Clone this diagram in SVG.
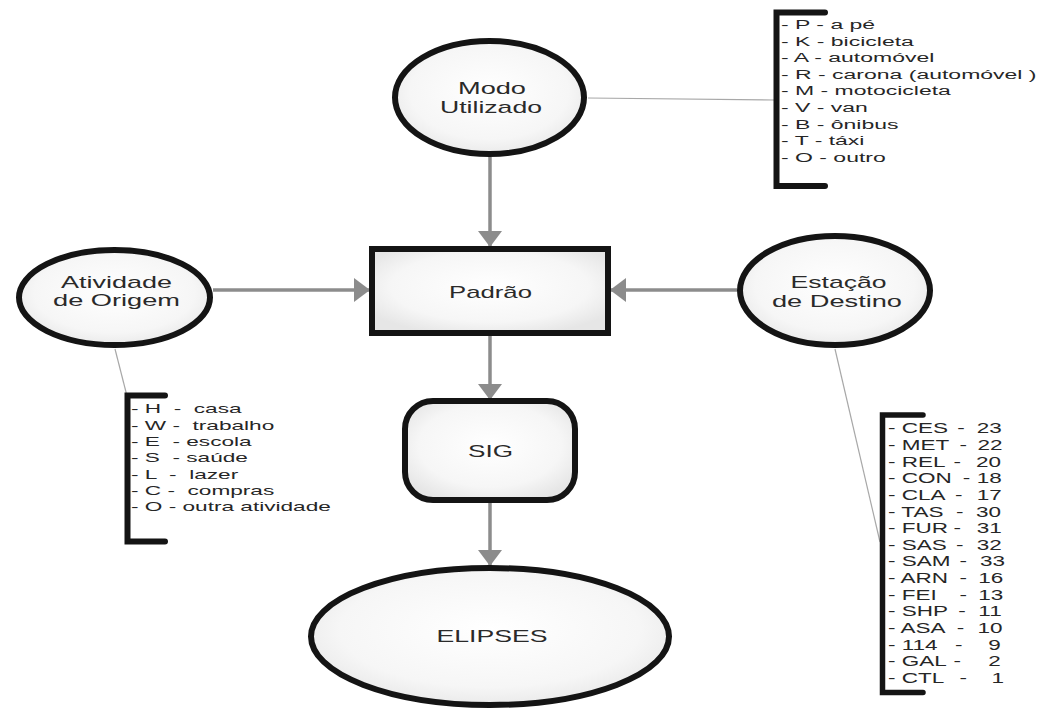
<svg xmlns="http://www.w3.org/2000/svg" width="1039" height="711" viewBox="0 0 1039 711">
<defs>
<radialGradient id="g" cx="0.5" cy="0.45" r="0.6">
<stop offset="0" stop-color="#ffffff"/>
<stop offset="0.7" stop-color="#f6f6f6"/>
<stop offset="1" stop-color="#e6e6e6"/>
</radialGradient>
<marker id="ah" viewBox="0 0 16 24" refX="16" refY="12" markerWidth="16" markerHeight="24" markerUnits="userSpaceOnUse" orient="auto">
<path d="M0,0 L16,12 L0,24 Z" fill="#8c8c8c"/>
</marker>
<style>
.node{fill:url(#g);stroke:#141414;stroke-width:6}
.lbl{font-family:"Liberation Sans",Arial,sans-serif;font-size:17px;fill:#2a2a2a;text-anchor:middle}
.arr{stroke:#8c8c8c;stroke-width:3.5;fill:none;marker-end:url(#ah)}
.thin{stroke:#a8a8a8;stroke-width:1.2;fill:none}
.brk{stroke:#141414;stroke-width:6;fill:none;stroke-linecap:round}
.lg1{font-family:"Liberation Sans",Arial,sans-serif;font-size:12.5px;fill:#262626;white-space:pre}
.lg3{font-family:"Liberation Sans",Arial,sans-serif;font-size:15px;fill:#262626}
</style>
</defs>
<rect x="0" y="0" width="1039" height="711" fill="#ffffff"/>

<g id="connectors">
<line class="arr" x1="490" y1="157" x2="490" y2="247"/>
<line class="arr" x1="213" y1="290" x2="370" y2="290"/>
<line class="arr" x1="737" y1="290" x2="610" y2="290"/>
<line class="arr" x1="490" y1="336" x2="490" y2="400"/>
<line class="arr" x1="490" y1="503" x2="490" y2="566"/>
<line class="thin" x1="588" y1="98" x2="774" y2="100"/>
<line class="thin" x1="115" y1="349" x2="127" y2="396"/>
<line class="thin" x1="835" y1="349" x2="880" y2="542"/>
</g>

<g id="modo">
<ellipse class="node" cx="489.5" cy="97.5" rx="94.5" ry="56.5"/>
<text class="lbl" x="492" y="93.5" textLength="68" lengthAdjust="spacingAndGlyphs">Modo</text>
<text class="lbl" x="491" y="113" textLength="102" lengthAdjust="spacingAndGlyphs">Utilizado</text>
</g>

<g id="padrao">
<rect class="node" x="372" y="249" width="236" height="84"/>
<text class="lbl" x="490.5" y="297.5" textLength="83" lengthAdjust="spacingAndGlyphs">Padrão</text>
</g>

<g id="atividade">
<ellipse class="node" cx="114.5" cy="297.5" rx="95.5" ry="47.5"/>
<text class="lbl" x="116.5" y="287.5" textLength="111" lengthAdjust="spacingAndGlyphs">Atividade</text>
<text class="lbl" x="116.5" y="306" textLength="127" lengthAdjust="spacingAndGlyphs">de Origem</text>
</g>

<g id="estacao">
<ellipse class="node" cx="835" cy="290.5" rx="95" ry="54.5"/>
<text class="lbl" x="838.5" y="288" textLength="96" lengthAdjust="spacingAndGlyphs">Estação</text>
<text class="lbl" x="837" y="307" textLength="130" lengthAdjust="spacingAndGlyphs">de Destino</text>
</g>

<g id="sig">
<rect class="node" x="405" y="401" width="170" height="99" rx="28" ry="28"/>
<text class="lbl" x="490.5" y="457" textLength="45" lengthAdjust="spacingAndGlyphs">SIG</text>
</g>

<g id="elipses">
<ellipse class="node" cx="490" cy="636.5" rx="179" ry="68.5"/>
<text class="lbl" x="492" y="642" textLength="111" lengthAdjust="spacingAndGlyphs">ELIPSES</text>
</g>

<g id="legenda-modo">
<path class="brk" d="M825,12.5 H776.5 V186 H825"/>
<g transform="translate(781 0) scale(1.84 1)">
<text class="lg1" x="0" y="29">- P - a pé</text>
<text class="lg1" x="0" y="45.6">- K - bicicleta</text>
<text class="lg1" x="0" y="62.2">- A - automóvel</text>
<text class="lg1" x="0" y="78.9">- R - carona (automóvel )</text>
<text class="lg1" x="0" y="95.5">- M - motocicleta</text>
<text class="lg1" x="0" y="112.1">- V - van</text>
<text class="lg1" x="0" y="128.7">- B - ônibus</text>
<text class="lg1" x="0" y="145.4">- T - táxi</text>
<text class="lg1" x="0" y="162">- O - outro</text>
</g>
</g>

<g id="legenda-atividade">
<path class="brk" d="M165,395.5 H127.5 V541.5 H165"/>
<g transform="translate(131 0) scale(1.81 1)">
<text class="lg1" x="0" y="413.5" xml:space="preserve">- H  -  casa</text>
<text class="lg1" x="0" y="429.8" xml:space="preserve">- W -  trabalho</text>
<text class="lg1" x="0" y="446.1" xml:space="preserve">- E  - escola</text>
<text class="lg1" x="0" y="462.4" xml:space="preserve">- S  - saúde</text>
<text class="lg1" x="0" y="478.7" xml:space="preserve">- L  -  lazer</text>
<text class="lg1" x="0" y="495" xml:space="preserve">- C -  compras</text>
<text class="lg1" x="0" y="511.3" xml:space="preserve">- O - outra atividade</text>
</g>
</g>

<g id="legenda-estacao">
<path class="brk" style="stroke-width:5.5" d="M923,415 H882.5 V692.5 H923"/>
<g transform="translate(888 0) scale(1.5 1)">
<text class="lg3" y="433.3"><tspan x="0">- CES</tspan><tspan x="46.2">-</tspan><tspan x="59.1">23</tspan></text>
<text class="lg3" y="449.95"><tspan x="0">- MET</tspan><tspan x="47.6">-</tspan><tspan x="59.6">22</tspan></text>
<text class="lg3" y="466.6"><tspan x="0">- REL</tspan><tspan x="43.6">-</tspan><tspan x="58.7">20</tspan></text>
<text class="lg3" y="483.25"><tspan x="0">- CON</tspan><tspan x="49.8">-</tspan><tspan x="59.1">18</tspan></text>
<text class="lg3" y="499.9"><tspan x="0">- CLA</tspan><tspan x="44.7">-</tspan><tspan x="59.1">17</tspan></text>
<text class="lg3" y="516.55"><tspan x="0">- TAS</tspan><tspan x="45.3">-</tspan><tspan x="58.7">30</tspan></text>
<text class="lg3" y="533.2"><tspan x="0">- FUR</tspan><tspan x="43.6">-</tspan><tspan x="59.1">31</tspan></text>
<text class="lg3" y="549.85"><tspan x="0">- SAS</tspan><tspan x="45.3">-</tspan><tspan x="59.1">32</tspan></text>
<text class="lg3" y="566.5"><tspan x="0">- SAM</tspan><tspan x="47.6">-</tspan><tspan x="61.3">33</tspan></text>
<text class="lg3" y="583.15"><tspan x="0">- ARN</tspan><tspan x="47.6">-</tspan><tspan x="60.2">16</tspan></text>
<text class="lg3" y="599.8"><tspan x="0">- FEI</tspan><tspan x="47.6">-</tspan><tspan x="60.2">13</tspan></text>
<text class="lg3" y="616.45"><tspan x="0">- SHP</tspan><tspan x="46.9">-</tspan><tspan x="60.2">11</tspan></text>
<text class="lg3" y="633.1"><tspan x="0">- ASA</tspan><tspan x="45.8">-</tspan><tspan x="59.6">10</tspan></text>
<text class="lg3" y="649.75"><tspan x="0">- 114</tspan><tspan x="44.7">-</tspan><tspan x="66.9">9</tspan></text>
<text class="lg3" y="666.4"><tspan x="0">- GAL</tspan><tspan x="43.6">-</tspan><tspan x="66.9">2</tspan></text>
<text class="lg3" y="683.05"><tspan x="0">- CTL</tspan><tspan x="47.6">-</tspan><tspan x="69">1</tspan></text>
</g>
</g>
</svg>
